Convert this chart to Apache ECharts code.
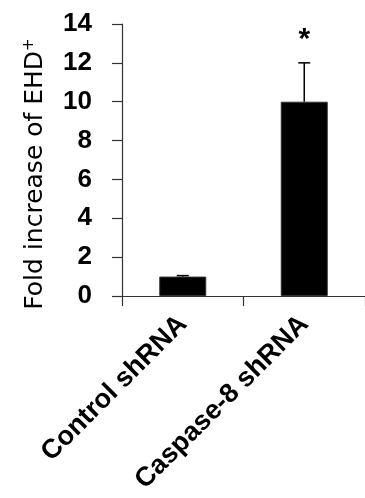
<!DOCTYPE html>
<html>
<head>
<meta charset="utf-8">
<script src="https://cdn.jsdelivr.net/npm/echarts@6/dist/echarts.min.js"></script>
<style>html,body{margin:0;padding:0;background:#fff;}#chart{width:365px;height:498px;}</style>
</head>
<body>
<div id="chart"></div>
<script>
const categories = ['Control shRNA', 'Caspase-8 shRNA'];
const foldValues = [1.0, 10.0];
const errorValues = [0.05, 2.0];
const significance = ['', '*'];
const yTicks = [0, 2, 4, 6, 8, 10, 12, 14];

const chart = echarts.init(document.getElementById('chart'));
const errData = categories.map((c, i) => [i, foldValues[i], errorValues[i], significance[i]]);

chart.setOption({
  animation: false,
  grid: { left: 122, right: 0, top: 24, bottom: 202 },
  xAxis: {
    type: 'category',
    data: categories,
    axisLine: { lineStyle: { color: '#333', width: 1.2 } },
    axisTick: { show: true, length: 10, lineStyle: { color: '#333', width: 1.2 } },
    axisLabel: {
      rotate: 45, margin: 24, color: '#000', fontSize: 27, fontWeight: 'bold',
      fontFamily: 'Liberation Sans', interval: 0
    }
  },
  yAxis: {
    type: 'value',
    min: yTicks[0], max: yTicks[yTicks.length - 1], interval: 2,
    axisLine: { show: true, lineStyle: { color: '#333', width: 1.2 } },
    axisTick: { show: true, length: 10, lineStyle: { color: '#333', width: 1.2 } },
    splitLine: { show: false },
    axisLabel: { margin: 30, color: '#000', fontSize: 26, fontWeight: 'bold', fontFamily: 'Liberation Sans' }
  },
  graphic: [{
    type: 'text',
    x: 35, y: 174, rotation: Math.PI / 2,
    style: {
      text: 'Fold increase of EHD{sup|+}',
      fill: '#000',
      font: '25px "DejaVu Sans"',
      align: 'center', verticalAlign: 'middle',
      rich: { sup: { fontSize: 15, fontFamily: 'DejaVu Sans', verticalAlign: 'top', padding: [0, 0, 12, 0] } }
    }
  }],
  series: [
    {
      type: 'bar',
      data: foldValues,
      barWidth: 47,
      itemStyle: { color: '#000', borderColor: '#333', borderWidth: 1 }
    },
    {
      type: 'custom',
      data: errData,
      z: 10,
      renderItem: function (params, api) {
        const idx = api.value(0);
        const mean = api.value(1);
        const err = api.value(2);
        const sig = errData[params.dataIndex][3];
        const base = api.coord([idx, mean]);
        const top = api.coord([idx, mean + err]);
        const children = [
          { type: 'line', shape: { x1: base[0], y1: base[1], x2: top[0], y2: top[1] }, style: { stroke: '#000', lineWidth: 1.5 } },
          { type: 'line', shape: { x1: top[0] - 6, y1: top[1], x2: top[0] + 6, y2: top[1] }, style: { stroke: '#000', lineWidth: 1.5 } }
        ];
        if (sig) {
          children.push({ type: 'text', style: { text: sig, x: top[0], y: top[1] - 23, align: 'center', verticalAlign: 'middle', fill: '#000', font: 'bold 30px "Liberation Sans"' } });
        }
        return { type: 'group', children: children };
      }
    }
  ]
});
</script>
</body>
</html>
